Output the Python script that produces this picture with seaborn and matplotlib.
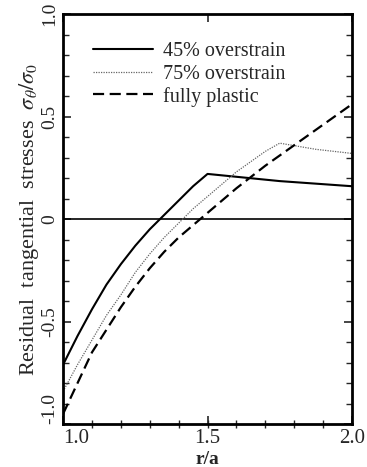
import numpy as np
import pandas as pd
import matplotlib
matplotlib.use("Agg")
import matplotlib.pyplot as plt
import seaborn as sns
from matplotlib.ticker import MultipleLocator, FixedLocator

# ==========================================================
# DATA
# ==========================================================

r_45 = [1.0, 1.05, 1.1, 1.15, 1.2, 1.25, 1.3, 1.35, 1.4, 1.45, 1.5, 1.75, 2.0]
s_45 = [-0.71, -0.57, -0.44, -0.32, -0.22, -0.13, -0.05, 0.02, 0.09, 0.16, 0.22, 0.185, 0.16]

r_75 = [1.0, 1.05, 1.1, 1.15, 1.2, 1.25, 1.3, 1.35, 1.4, 1.45, 1.5, 1.55, 1.6,
        1.65, 1.7, 1.75, 1.875, 2.0]
s_75 = [-0.84, -0.71, -0.59, -0.47, -0.37, -0.26, -0.17, -0.09, -0.02, 0.05, 0.11,
        0.17, 0.23, 0.28, 0.33, 0.37, 0.34, 0.32]

r_fp = [1.0, 1.05, 1.1, 1.15, 1.2, 1.25, 1.3, 1.35, 1.4, 1.45, 1.5, 1.6, 1.7,
        1.75, 1.8, 1.9, 2.0]
s_fp = [-0.95, -0.80, -0.65, -0.54, -0.43, -0.33, -0.24, -0.16, -0.09, -0.03, 0.03,
        0.15, 0.26, 0.31, 0.36, 0.46, 0.56]

labels = ["45% overstrain", "75% overstrain", "fully plastic"]
x_ticks = [1.0, 1.5, 2.0]
x_ticklabels = ["1.0", "1.5", "2.0"]
y_ticks = [-1.0, -0.5, 0.0, 0.5, 1.0]
y_ticklabels = ["-1.0", "-0.5", "0", "0.5", "1.0"]

# ==========================================================
# STYLE
# ==========================================================

sns.set_theme(style="ticks")
plt.rcParams["font.family"] = ["Liberation Serif", "DejaVu Serif"]
plt.rcParams["mathtext.fontset"] = "stix"

fig = plt.figure(figsize=(3.67, 4.67), dpi=100)
ax = fig.add_axes([0.172, 0.092, 0.787, 0.878])

# ==========================================================
# PLOT
# ==========================================================

sns.lineplot(x=r_45, y=s_45, ax=ax, color="black", linewidth=1.5,
             linestyle="-", label=labels[0])
sns.lineplot(x=r_75, y=s_75, ax=ax, color="#666666", linewidth=0.9,
             linestyle=(0, (1, 1)), label=labels[1])
sns.lineplot(x=r_fp, y=s_fp, ax=ax, color="black", linewidth=1.6,
             linestyle=(0, (5, 2.5)), label=labels[2])

ax.axhline(0, color="black", linewidth=1.2, zorder=1)

# small ticks along the zero line
zero_axis = ax.secondary_xaxis(0)
zero_axis.xaxis.set_major_locator(FixedLocator(np.arange(1.1, 2.0, 0.1)))
zero_axis.tick_params(axis="x", direction="inout", length=6, width=1,
                      labelbottom=False)
zero_axis.spines["bottom"].set_visible(False)

ax.set_xlim(1.0, 2.0)
ax.set_ylim(-1.0, 1.0)

ax.set_xticks(x_ticks)
ax.set_xticklabels(x_ticklabels, fontsize=15)
ax.set_yticks(y_ticks)
ax.set_yticklabels(y_ticklabels, fontsize=14, rotation=90, va="center")
ax.yaxis.set_minor_locator(MultipleLocator(0.1))

# keep the corner labels apart
ax.xaxis.get_major_ticks()[0].label1.set_ha("left")
ax.yaxis.get_major_ticks()[0].label1.set_va("bottom")

ax.tick_params(axis="both", which="major", direction="in", length=6, width=1.2,
               top=True, right=True)
ax.tick_params(axis="y", which="minor", direction="in", length=4, width=1,
               left=True, right=True)

for sp in ax.spines.values():
    sp.set_linewidth(2)
    sp.set_color("black")

ax.set_xlabel("r/a", fontsize=14, fontweight="bold", labelpad=2)
ax.set_ylabel(r"Residual  tangential  stresses  $\sigma_\theta/\sigma_0$",
              fontsize=16, labelpad=0)

ax.legend(loc="upper left", frameon=False, fontsize=14.5, handlelength=3.0,
          handletextpad=0.5, labelspacing=0.15, bbox_to_anchor=(0.04, 0.975))

fig.savefig("out.png", dpi=100)
plt.close(fig)
